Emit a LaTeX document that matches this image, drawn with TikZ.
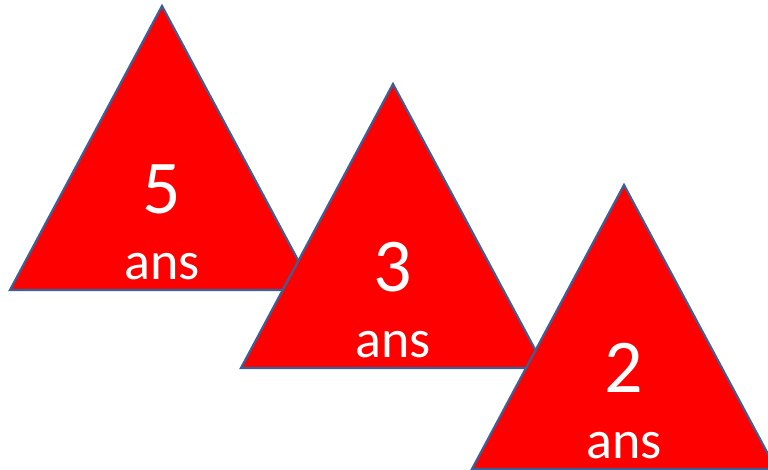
\documentclass[tikz,border=0pt]{standalone}
\usepackage{fontspec}
\setmainfont{Carlito}
\definecolor{triRed}{HTML}{FF0000}
\definecolor{triEdge}{HTML}{3A6197}

\begin{document}
\begin{tikzpicture}[x=1pt,y=-1pt,line width=2.2pt,
  tri/.style={fill=triRed,draw=triEdge,line join=miter},
  numtxt/.style={text=white,anchor=base,inner sep=0pt,font=\fontsize{76}{80}\selectfont},
  anstxt/.style={text=white,anchor=base,inner sep=0pt,font=\fontsize{54}{58}\selectfont}]
\useasboundingbox (0,0) rectangle (768,469);
\clip (0,0) rectangle (768,469);
% trois triangles, chacun posé sur le précédent
\foreach \dx/\dy/\n/\nm in {0/0/5/cinq,231/78/3/trois,462/179/2/deux}{
  \begin{scope}[shift={(\dx,\dy)}]
  \draw[tri] (162,6) -- (314,290) -- (10,290) -- cycle;
  \node[numtxt] (num-\nm) at (162,213) {\n};
  \node[anstxt] (ans-\nm) at (162,279) {ans};
  \end{scope}
}
\end{tikzpicture}
\end{document}
